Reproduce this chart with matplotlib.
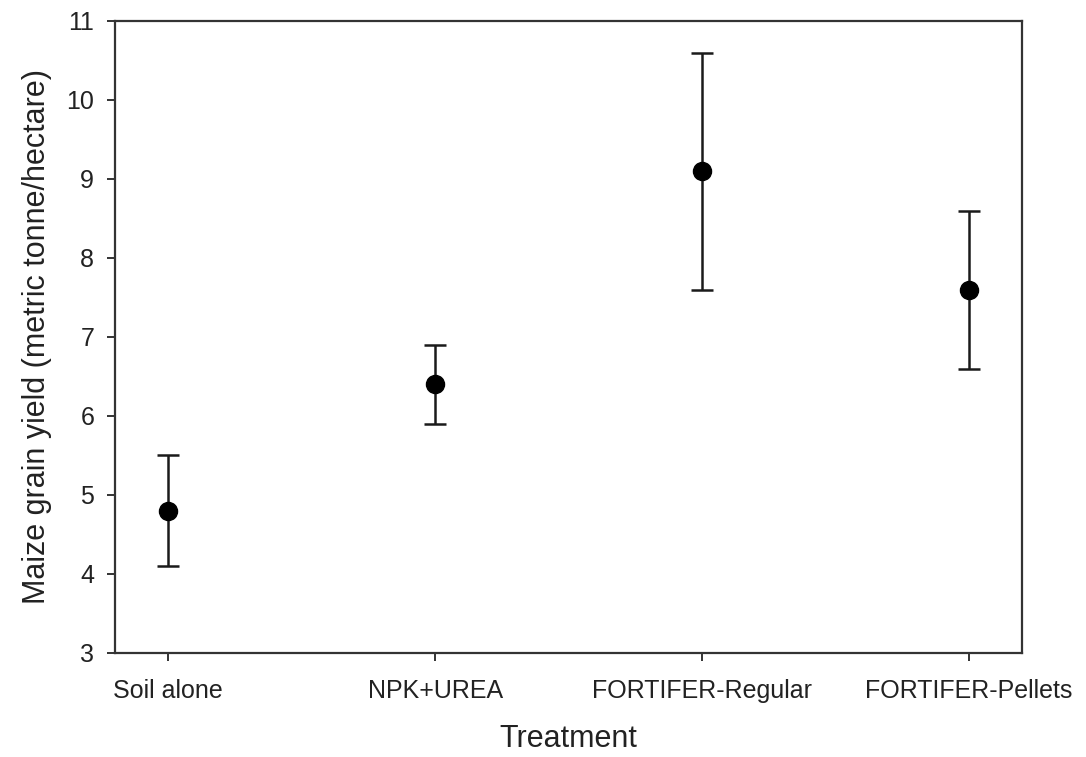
import matplotlib
matplotlib.use("Agg")
import matplotlib.pyplot as plt

categories = ["Soil alone", "NPK+UREA", "FORTIFER-Regular", "FORTIFER-Pellets"]
means = [4.8, 6.4, 9.1, 7.6]
errors = [0.7, 0.5, 1.5, 1.0]
yticks = [3, 4, 5, 6, 7, 8, 9, 10, 11]

plt.rcParams['font.family'] = ['Liberation Sans', 'DejaVu Sans']

fig = plt.figure(figsize=(10.86, 7.57), dpi=100)
ax = fig.add_axes([0.1059, 0.1374, 0.8352, 0.8349])

x = list(range(len(categories)))
ax.errorbar(x, means, yerr=errors, fmt='o', color='black', ecolor='#1a1a1a',
            markersize=13, elinewidth=1.8, capsize=8, capthick=1.8)

ax.set_xlim(-0.2, 3.2)
ax.set_ylim(3, 11)
ax.set_xticks(x)
ax.set_xticklabels(categories)
ax.set_yticks(yticks)
for s in ax.spines.values():
    s.set_linewidth(1.6)
    s.set_color('#333333')
ax.tick_params(direction='out', length=6, width=1.4, color='#333333',
               labelsize=18, labelcolor='#222222')
ax.tick_params(axis='y', pad=9)
ax.tick_params(axis='x', pad=13)
ax.set_xlabel("Treatment", fontsize=22, color='#222222', labelpad=15)
ax.set_ylabel("Maize grain yield (metric tonne/hectare)", fontsize=22,
              color='#222222', labelpad=10)

fig.savefig("out.png", dpi=100)
